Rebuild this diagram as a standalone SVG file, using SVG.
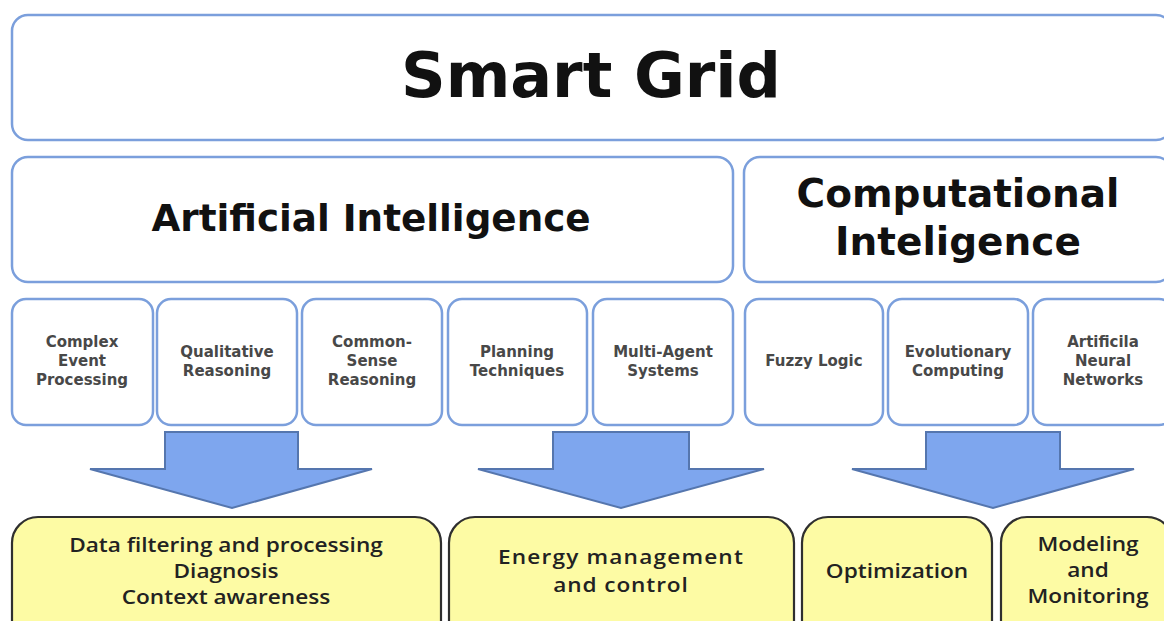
<svg xmlns="http://www.w3.org/2000/svg" width="1164" height="621" viewBox="0 0 1164 621">
<style>
.bb{fill:#ffffff;stroke:#7B9FDC;stroke-width:2.5}
.yb{fill:#FDFBA4;stroke:#2f2f2f;stroke-width:2.2}
.ar{fill:#7EA6EE;stroke:#5576AE;stroke-width:2}
.t1{font-family:"DejaVu Sans",Verdana,sans-serif;font-weight:bold;fill:#111;text-anchor:middle}
.t3{font-family:"DejaVu Sans",Verdana,sans-serif;font-weight:bold;font-size:15px;fill:#484848;text-anchor:middle}
.t4{font-family:"Open Sans",Lato,sans-serif;font-weight:600;font-size:19px;fill:#222;text-anchor:middle}
</style>
<rect width="1164" height="621" fill="#ffffff"/>
<g id="smart-grid"><rect class="bb" x="12" y="15" width="1160" height="125" rx="16"/><text class="t1" x="591" y="97" font-size="62">Smart Grid</text></g>
<g id="ai"><rect class="bb" x="12" y="157" width="721" height="125" rx="16"/><text class="t1" x="371" y="231" font-size="37.3">Artificial Intelligence</text></g>
<g id="ci"><rect class="bb" x="744" y="157" width="428" height="125" rx="16"/><text class="t1" x="958" y="207" font-size="39">Computational</text><text class="t1" x="958" y="255" font-size="39">Inteligence</text></g>
<g id="cep"><rect class="bb" x="12" y="299" width="141" height="126" rx="14"/><text class="t3" x="82" y="347">Complex</text><text class="t3" x="82" y="366">Event</text><text class="t3" x="82" y="385">Processing</text></g>
<g id="qr"><rect class="bb" x="157" y="299" width="140" height="126" rx="14"/><text class="t3" x="227" y="357">Qualitative</text><text class="t3" x="227" y="376">Reasoning</text></g>
<g id="csr"><rect class="bb" x="302" y="299" width="140" height="126" rx="14"/><text class="t3" x="372" y="347">Common-</text><text class="t3" x="372" y="366">Sense</text><text class="t3" x="372" y="385">Reasoning</text></g>
<g id="pt"><rect class="bb" x="448" y="299" width="139" height="126" rx="14"/><text class="t3" x="517" y="357">Planning</text><text class="t3" x="517" y="376">Techniques</text></g>
<g id="mas"><rect class="bb" x="593" y="299" width="140" height="126" rx="14"/><text class="t3" x="663" y="357">Multi-Agent</text><text class="t3" x="663" y="376">Systems</text></g>
<g id="fl"><rect class="bb" x="745" y="299" width="138" height="126" rx="14"/><text class="t3" x="814" y="366">Fuzzy Logic</text></g>
<g id="ec"><rect class="bb" x="888" y="299" width="140" height="126" rx="14"/><text class="t3" x="958" y="357">Evolutionary</text><text class="t3" x="958" y="376">Computing</text></g>
<g id="ann"><rect class="bb" x="1033" y="299" width="140" height="126" rx="14"/><text class="t3" x="1103" y="347">Artificila</text><text class="t3" x="1103" y="366">Neural</text><text class="t3" x="1103" y="385">Networks</text></g>
<g id="connectors">
<polygon class="ar" points="165,432 298,432 298,469 372,469 232,508 90,469 165,469"/>
<polygon class="ar" points="553,432 689,432 689,469 764,469 621,508 478,469 553,469"/>
<polygon class="ar" points="926,432 1060,432 1060,469 1134,469 993,508 852,469 926,469"/>
</g>
<g id="data"><rect class="yb" x="12" y="517" width="429" height="130" rx="26"/>
<text class="t4" transform="translate(226,0) scale(1.19,1)" x="0" y="552">Data filtering and processing</text>
<text class="t4" transform="translate(226,0) scale(1.19,1)" x="0" y="578">Diagnosis</text>
<text class="t4" transform="translate(226,0) scale(1.19,1)" x="0" y="604">Context awareness</text></g>
<g id="energy"><rect class="yb" x="449" y="517" width="345" height="130" rx="26"/>
<text class="t4" transform="translate(621,0) scale(1.19,1)" x="0" y="564" font-size="21" letter-spacing="1">Energy management</text>
<text class="t4" transform="translate(621,0) scale(1.19,1)" x="0" y="592" font-size="21" letter-spacing="0.75">and control</text></g>
<g id="opt"><rect class="yb" x="802" y="517" width="190" height="130" rx="26"/>
<text class="t4" transform="translate(897,0) scale(1.19,1)" x="0" y="578">Optimization</text></g>
<g id="mod"><rect class="yb" x="1001" y="517" width="172" height="130" rx="26"/>
<text class="t4" transform="translate(1088,0) scale(1.19,1)" x="0" y="551">Modeling</text>
<text class="t4" transform="translate(1088,0) scale(1.19,1)" x="0" y="577">and</text>
<text class="t4" transform="translate(1088,0) scale(1.19,1)" x="0" y="603">Monitoring</text></g>
</svg>
